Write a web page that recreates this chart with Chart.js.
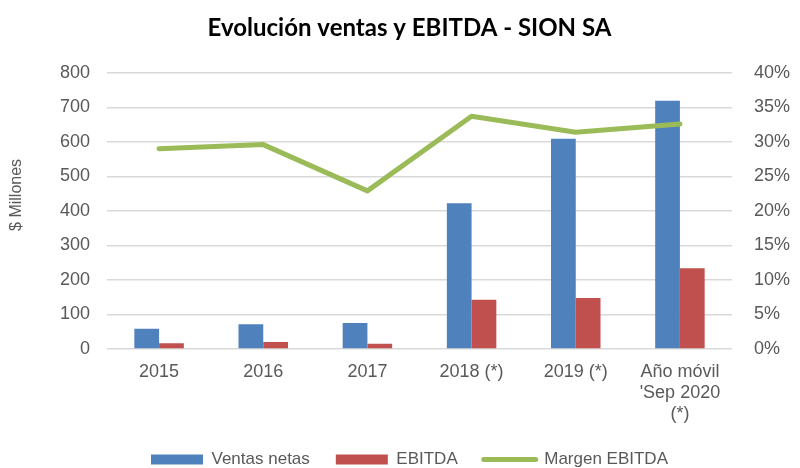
<!DOCTYPE html>
<html>
<head>
<meta charset="utf-8">
<script src="https://cdn.jsdelivr.net/npm/chart.js@4/dist/chart.umd.min.js"></script>
<style>
  html, body { margin: 0; padding: 0; background: #fff; overflow: hidden; }
  /* lienzo un poco más alto que la ventana: la leyenda queda pegada al borde inferior como en Excel */
  #wrap { width: 800px; height: 478px; position: relative; }
</style>
</head>
<body>
<div id="wrap"><canvas id="chart"></canvas></div>
<script>
// categorías y series
const CATEGORIES = ['2015', '2016', '2017', '2018 (*)', '2019 (*)', ['Año móvil', "'Sep 2020", '(*)']];
const VENTAS = [59, 72, 75, 422, 609, 719];     // $ millones
const EBITDA = [17, 20, 15, 143, 148, 234];     // $ millones
const MARGEN = [29.0, 29.6, 22.9, 33.7, 31.4, 32.6]; // %

const LEFT_TICKS = {min: 0, max: 800, step: 100};
const RIGHT_TICKS = {min: 0, max: 40, step: 5};
const LEGEND_ORDER = ['Ventas netas', 'EBITDA', 'Margen EBITDA'];

const GRAY = '#595959';
const FAMILY = "'Liberation Sans', Arial, sans-serif";
const TICK_FONT = {family: FAMILY, size: 18};

// título del eje izquierdo, un poco por encima del centro como en el original
const yTitle = {
  id: 'yTitle',
  afterDraw(chart) {
    const {ctx, chartArea} = chart;
    ctx.save();
    ctx.translate(17, (chartArea.top + chartArea.bottom) / 2 - 16);
    ctx.rotate(-Math.PI / 2);
    ctx.fillStyle = GRAY;
    ctx.font = `16px ${FAMILY}`;
    ctx.textAlign = 'center';
    ctx.textBaseline = 'middle';
    ctx.fillText('$ Millones', 0, 0);
    ctx.restore();
  }
};

new Chart(document.getElementById('chart'), {
  data: {
    labels: CATEGORIES,
    datasets: [
      {
        type: 'line',
        label: 'Margen EBITDA',
        data: MARGEN,
        borderColor: '#9bbb59',
        backgroundColor: '#9bbb59',
        borderWidth: 5,
        borderCapStyle: 'round',
        borderJoinStyle: 'round',
        pointRadius: 0,
        tension: 0,
        yAxisID: 'y1',
        order: 0
      },
      {
        type: 'bar',
        label: 'Ventas netas',
        data: VENTAS,
        backgroundColor: '#4f81bd',
        borderWidth: 0,
        yAxisID: 'y',
        order: 1
      },
      {
        type: 'bar',
        label: 'EBITDA',
        data: EBITDA,
        backgroundColor: '#c0504d',
        borderWidth: 0,
        yAxisID: 'y',
        order: 1
      }
    ]
  },
  plugins: [yTitle],
  options: {
    responsive: true,
    maintainAspectRatio: false,
    animation: false,
    layout: {padding: {top: 0, left: 19, right: 0, bottom: 0}},
    datasets: {bar: {categoryPercentage: 0.475, barPercentage: 1.0}},
    plugins: {
      title: {
        display: true,
        text: 'Evolución ventas y EBITDA - SION SA',
        color: '#000',
        font: {family: "Lato, 'Open Sans', sans-serif", size: 24, weight: 'bold', lineHeight: 1.2},
        padding: {top: 14, bottom: 30}
      },
      legend: {
        position: 'bottom',
        labels: {
          usePointStyle: true,
          pointStyleWidth: 52,
          boxHeight: 10,
          padding: 26,
          color: GRAY,
          font: {family: FAMILY, size: 17},
          sort: (a, b) => LEGEND_ORDER.indexOf(a.text) - LEGEND_ORDER.indexOf(b.text),
          generateLabels: chart => Chart.defaults.plugins.legend.labels.generateLabels(chart).map(l => {
            if (l.text === 'Margen EBITDA') return {...l, pointStyle: 'line', lineWidth: 5, lineCap: 'round'};
            return {...l, pointStyle: 'rect', lineWidth: 0};
          })
        }
      },
      tooltip: {enabled: false}
    },
    scales: {
      x: {
        grid: {display: false, drawTicks: false},
        border: {display: false},
        ticks: {color: GRAY, font: {...TICK_FONT, lineHeight: 21 / 18}, padding: 13, maxRotation: 0, autoSkip: false},
        afterFit: s => { s.height = 76; }
      },
      y: {
        position: 'left',
        min: LEFT_TICKS.min, max: LEFT_TICKS.max,
        ticks: {stepSize: LEFT_TICKS.step, color: GRAY, font: TICK_FONT, padding: 17},
        grid: {color: '#d9d9d9', lineWidth: 1.5, drawTicks: false},
        border: {display: false},
        afterFit: s => { s.width = 88; }
      },
      y1: {
        position: 'right',
        min: RIGHT_TICKS.min, max: RIGHT_TICKS.max,
        ticks: {stepSize: RIGHT_TICKS.step, color: GRAY, font: TICK_FONT, padding: 22, callback: v => v + '%'},
        grid: {display: false, drawTicks: false},
        border: {display: false},
        afterFit: s => { s.width = 68; }
      }
    }
  }
});
</script>
</body>
</html>
